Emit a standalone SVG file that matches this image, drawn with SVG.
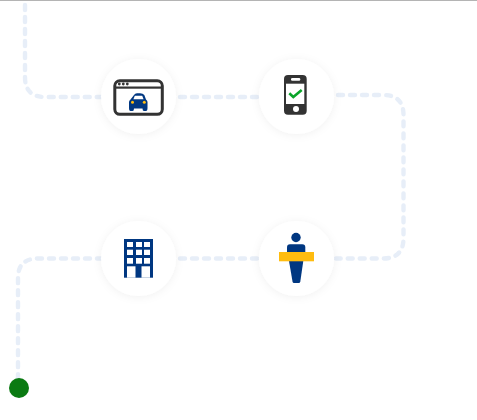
<svg xmlns="http://www.w3.org/2000/svg" width="477" height="420" viewBox="0 0 477 420">
<style>
.route{fill:none;stroke:#e7eef8;stroke-width:4.400;stroke-linecap:round;stroke-dasharray:5 7}
.disc{fill:#fff;filter:url(#soft)}
.navy{fill:#003781}
.dark{fill:#333}
.win{fill:#fff}
</style>
<defs>
<filter id="soft" x="-30%" y="-30%" width="160%" height="160%"><feDropShadow dx="0" dy="1" stdDeviation="4" flood-color="#000" flood-opacity="0.06"/></filter>
</defs>
<rect width="477" height="420" fill="#fff"/>
<rect id="top-rule" width="477" height="1" fill="#b4b4b4"/>
<g id="connectors">
<path class="route" d="M25 5V77Q25 97 45 97H102"/>
<path class="route" d="M180 97H260"/>
<path class="route" d="M338 95H383Q403.500 95 403.500 115V238Q403.500 258.500 383 258.500H336"/>
<path class="route" d="M180 258.500H260"/>
<path class="route" d="M102 258.500H38Q18 258.500 18 278V380"/>
</g>
<g id="node-browser">
<circle class="disc" cx="138.500" cy="96.500" r="37.500"/>
<rect x="114.800" y="80.800" width="47.500" height="33.500" rx="5" fill="none" stroke="#333" stroke-width="3"/>
<rect class="dark" x="114" y="86.500" width="49" height="2.200"/>
<circle class="dark" cx="119.300" cy="84" r="1.400"/><circle class="dark" cx="123.300" cy="84" r="1.400"/><circle class="dark" cx="127.300" cy="84" r="1.400"/>
<path class="navy" d="M134 95Q135 93.300 137 93.300H140Q143 93.300 144.300 95L146 99.500Q147.500 100.500 147.500 102V108Q147.500 111 146 111H144Q142.500 111 142.500 108.500H134Q134 111 132.500 111H130.500Q129 111 129 108V102Q129 100.500 130.500 99.500Z"/>
<path fill="#fff" d="M134.800 95.800H142.200L143.600 99.300H133.400Z"/>
<circle cx="132.500" cy="102.300" r="1.500" fill="#ffbc0f"/><circle cx="144.300" cy="102.300" r="1.500" fill="#ffbc0f"/>
</g>
<g id="node-phone">
<circle class="disc" cx="296.500" cy="96.500" r="37.500"/>
<rect class="dark" x="284" y="75" width="22.700" height="39.700" rx="4"/>
<rect class="win" x="286" y="83.700" width="18.300" height="20.300"/>
<rect class="win" x="291" y="78" width="9.300" height="2.700" rx="1.300"/>
<circle class="win" cx="296" cy="109" r="3"/>
<path d="M289.300 93.300L293.300 97L301.700 90" fill="none" stroke="#0aa52a" stroke-width="2.600"/>
</g>
<g id="node-building">
<circle class="disc" cx="138.500" cy="258.500" r="37.500"/>
<rect class="navy" x="124" y="239" width="29" height="38.700"/>
<rect class="win" x="127" y="242" width="6" height="5"/><rect class="win" x="136" y="242" width="6" height="5"/><rect class="win" x="144" y="242" width="6" height="5"/>
<rect class="win" x="127" y="249.700" width="6" height="5.300"/><rect class="win" x="136" y="249.700" width="6" height="5.300"/><rect class="win" x="144" y="249.700" width="6" height="5.300"/>
<rect class="win" x="127" y="258" width="6" height="5.700"/><rect class="win" x="136" y="258" width="6" height="5.700"/><rect class="win" x="144" y="258" width="6" height="5.700"/>
<rect class="win" x="127" y="266.300" width="8.500" height="11.400"/><rect class="win" x="141.500" y="266.300" width="8.500" height="11.400"/>
</g>
<g id="node-person">
<circle class="disc" cx="296.500" cy="258.500" r="37.500"/>
<circle class="navy" cx="296" cy="237.500" r="4.700"/>
<path class="navy" d="M287 252V247.500Q287 244.300 290 244.300H302.300Q305.300 244.300 305.300 247.500V252Z"/>
<path class="navy" d="M289 261H303.300L300.300 281.500Q300 283 298.800 283H294Q292.800 283 292.500 281.500Z"/>
<rect x="279" y="252" width="35" height="9.300" fill="#ffbc0f"/>
</g>
<g id="node-start">
<circle cx="19" cy="388" r="10" fill="#0a7a12"/>
</g>
</svg>
